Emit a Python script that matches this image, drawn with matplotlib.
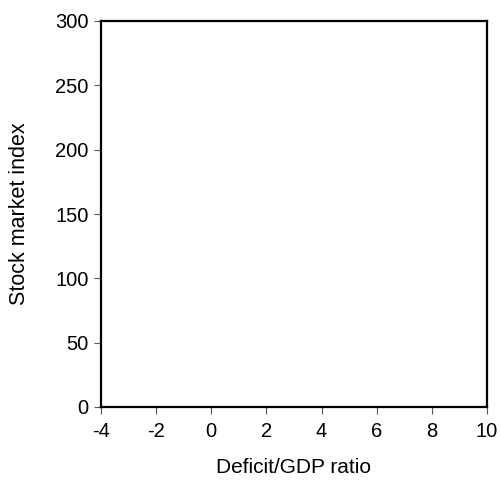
import matplotlib
matplotlib.use("Agg")
import matplotlib.pyplot as plt

plt.rcParams['font.family'] = ['Liberation Sans', 'DejaVu Sans']
plt.rcParams['axes.unicode_minus'] = False

# data (the chart is empty: no points plotted)
deficit_ratio = []
stock_index = []
x_ticks = [-4, -2, 0, 2, 4, 6, 8, 10]
y_ticks = [0, 50, 100, 150, 200, 250, 300]

fig = plt.figure(figsize=(5.01, 4.83), dpi=100)
ax = fig.add_axes([101/501, 1 - 407/483, 386/501, 386/483])

ax.scatter(deficit_ratio, stock_index)
ax.set_xlim(-4, 10)
ax.set_ylim(0, 300)
ax.set_xticks(x_ticks)
ax.set_yticks(y_ticks)
ax.tick_params(direction='out', length=5, width=0.8, color='#555555', labelsize=14.5)
ax.tick_params(axis='x', pad=6)
ax.tick_params(axis='y', pad=4)
for s in ax.spines.values():
    s.set_linewidth(1.6)
ax.set_xlabel('Deficit/GDP ratio', fontsize=15)
ax.set_ylabel('Stock market index', fontsize=15.5)
ax.xaxis.set_label_coords(0.5, -0.133)
ax.yaxis.set_label_coords(-0.185, 0.5)

fig.savefig('out.png', dpi=100)
